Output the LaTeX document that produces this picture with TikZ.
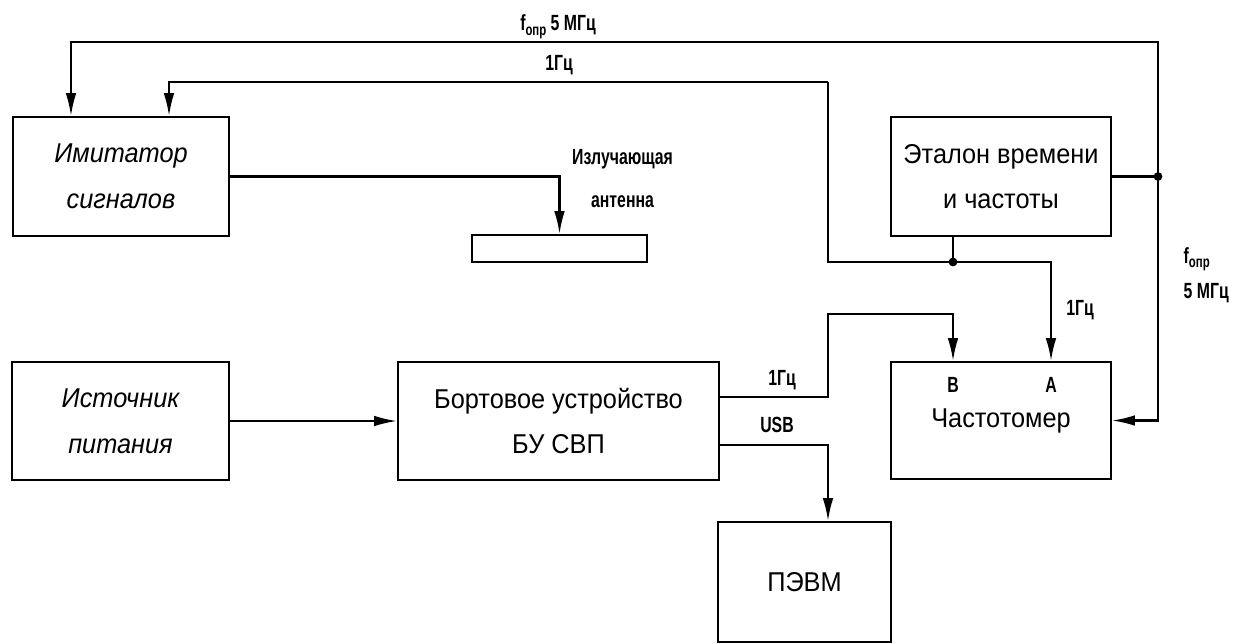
\documentclass[tikz,border=0pt]{standalone}
\usepackage{fontspec}
\setmainfont[FakeStretch=0.93]{Liberation Sans}
\newfontfamily\labfont[FakeStretch=0.72]{Liberation Sans}
\usetikzlibrary{arrows.meta,positioning}

\begin{document}
\begin{tikzpicture}[
  blok/.style={draw, line width=1.1pt, align=center, inner sep=0pt, font=\fontsize{15.5}{26}\selectfont},
  kursiv/.style={font=\fontsize{15.5}{26}\selectfont\itshape},
  lab/.style={font=\labfont\bfseries\fontsize{12.5}{14}\selectfont},
  pil/.style={line width=1.2pt, -{Latex[length=13pt,width=6pt]}},
  lin/.style={line width=1.2pt}
]
  \useasboundingbox (0,0) rectangle (24.78,12.86);

  % Blocks
  \node[blok, kursiv, minimum width=4.32cm, minimum height=2.38cm] (imit) at (2.42,9.33) {Имитатор\\сигналов};
  \node[draw, line width=1.1pt, minimum width=3.5cm, minimum height=0.54cm] (ant) at (11.19,7.89) {};
  \node[blok, minimum width=4.4cm, minimum height=2.38cm] (etal) at (20.02,9.33) {Эталон времени\\и частоты};
  \node[blok, kursiv, minimum width=4.34cm, minimum height=2.36cm] (ist) at (2.41,4.44) {Источник\\питания};
  \node[blok, minimum width=6.42cm, minimum height=2.36cm] (bort) at (11.17,4.44) {Бортовое устройство\\БУ СВП};
  \node[blok, minimum width=4.4cm, minimum height=2.34cm] (chast) at (20.02,4.45) {Частотомер};
  \node[blok, minimum width=3.46cm, minimum height=2.4cm] (pevm) at (16.09,1.22) {ПЭВМ};

  % Bends and junctions
  \coordinate (j1) at (23.16,9.33);
  \coordinate (tl) at (1.42,12.02);
  \coordinate (c1) at (3.38,11.22);
  \coordinate (c2) at (16.56,11.22);
  \coordinate (j2) at (19.06,7.62);
  \coordinate (xa) at (21.02,7.62);
  \coordinate (b1) at (16.56,6.58);

  % Connections
  \draw[lin] (etal.east) -- (j1);
  \draw[pil] (j1) |- (tl) -- (tl |- imit.north);
  \draw[pil] (j1) |- (chast.east);
  \draw[pil] (c2) -- (c1) -- (c1 |- imit.north);
  \draw[pil] (c2) |- (xa) -- (xa |- chast.north);
  \draw[lin] (j2 |- etal.south) -- (j2);
  \draw[pil] (imit.east) -| (ant.north);
  \draw[pil] (ist) -- (bort);
  \draw[pil] ([yshift=4.8mm]bort.east) -| (b1) -| (j2 |- chast.north);
  \draw[pil] ([yshift=-4.8mm]bort.east) -| (b1 |- pevm.north);
  \fill (j1) circle (2.5pt);
  \fill (j2) circle (2.5pt);

  % Labels
  \node[lab] (lfop) at (11.16,12.32) {f\raisebox{-0.4ex}{\fontsize{9}{10}\selectfont опр} 5 МГц};
  \node[lab] (lhz1) at (11.18,11.56) {1Гц};
  \node[lab, align=center, font=\labfont\bfseries\fontsize{12.5}{24}\selectfont] (lant) at (12.45,9.29) {Излучающая\\антенна};
  \node[lab] (lhz2) at (21.6,6.66) {1Гц};
  \node[lab, align=left, anchor=west, font=\labfont\bfseries\fontsize{12.5}{20}\selectfont] (lfop2) at (23.55,7.36) {f\raisebox{-0.4ex}{\fontsize{9}{10}\selectfont опр}\\5 МГц};
  \node[lab] (lhz3) at (15.64,5.26) {1Гц};
  \node[lab] (lusb) at (15.54,4.36) {USB};
  \node[lab] (lB) at (19.06,5.16) {B};
  \node[lab] (lA) at (21.02,5.16) {A};
\end{tikzpicture}
\end{document}
